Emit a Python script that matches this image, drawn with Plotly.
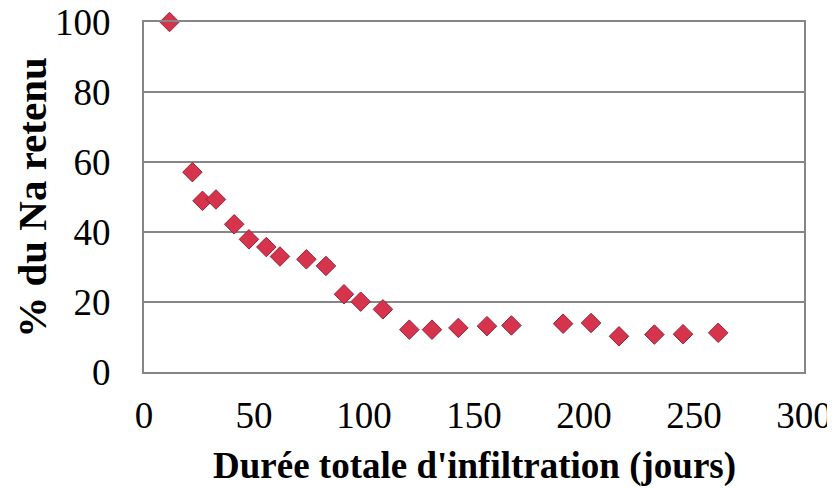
import plotly.graph_objects as go

duree_jours = [11.6, 22, 26.6, 32.7, 41, 47.7, 55.6, 61.8, 73.8, 82.7, 90.9, 98.5,
               108.6, 120.6, 130.9, 142.9, 155.9, 167, 190.5, 203.2, 215.9, 232, 245, 261]
na_retenu = [100, 57.1, 48.9, 49.3, 42.2, 37.9, 35.7, 33, 32.2, 30.3, 22.2, 20.1,
             17.9, 12.1, 12.1, 12.6, 13.1, 13.3, 13.8, 14, 10.2, 10.7, 10.8, 11.2]

x_ticks = [0, 50, 100, 150, 200, 250, 300]
y_ticks = [0, 20, 40, 60, 80, 100]
x_title = "Durée totale d'infiltration (jours)"
y_title = "% du Na retenu"

FONT = "Liberation Serif, Times New Roman, serif"
GRID = "#868686"

fig = go.Figure()
fig.add_trace(go.Scatter(
    x=duree_jours, y=na_retenu, mode="markers",
    marker=dict(symbol="diamond", size=15, color="#d5344c",
                line=dict(color="#99233a", width=1)),
    cliponaxis=False, showlegend=False,
))

fig.update_layout(
    width=835, height=488,
    margin=dict(l=136, r=39, t=14, b=124),
    paper_bgcolor="white", plot_bgcolor="white",
    font=dict(family=FONT, color="black", size=37),
    annotations=[
        dict(text="<b>" + x_title + "</b>", xref="paper", yref="paper",
             x=0.5, y=-0.269, xanchor="center", yanchor="middle",
             showarrow=False, font=dict(size=37, family=FONT)),
        dict(text="<b>" + y_title + "</b>", xref="paper", yref="paper",
             x=-0.17, y=0.5, xanchor="center", yanchor="middle", textangle=-90,
             showarrow=False, font=dict(size=41, family=FONT)),
    ],
)
fig.update_xaxes(
    range=[0, 300], tickvals=x_ticks, ticktext=[str(v) for v in x_ticks],
    showgrid=False, zeroline=False, automargin=False, ticklabeloverflow="allow",
    showline=True, linecolor=GRID, linewidth=2, mirror=True,
    ticks="", tickfont=dict(size=37, family=FONT), ticklabelstandoff=10,
)
fig.update_yaxes(
    range=[0, 100], tickvals=y_ticks, ticktext=[str(v) for v in y_ticks],
    showgrid=True, gridcolor=GRID, gridwidth=1.5, zeroline=False, automargin=False,
    ticklabeloverflow="allow",
    showline=True, linecolor=GRID, linewidth=2, mirror=True,
    ticks="", tickfont=dict(size=37, family=FONT), ticklabelstandoff=24,
)

fig.write_html("out.html")
